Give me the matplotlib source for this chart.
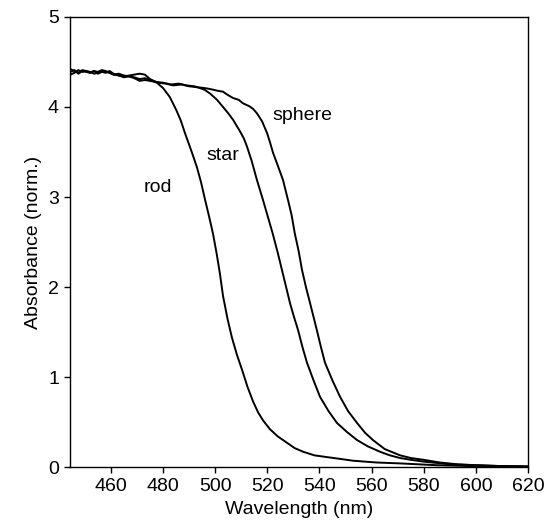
import matplotlib
matplotlib.use('Agg')
import matplotlib.pyplot as plt

plt.rcParams['font.family'] = ['Liberation Sans', 'DejaVu Sans']

# rod
rod_x = [444.5, 446, 447.5, 449, 450.5, 452, 453.5, 455, 456.5, 458, 459.5, 461, 463,
         465, 467, 469, 471, 473, 475, 477.6, 480, 482.6, 485, 486.8, 488.4, 491,
         493, 494.6, 496.1, 497.6, 499.1, 500.5, 501.8, 503, 504.7, 506.4, 508.3,
         510.3, 512.4, 514.5, 516.4, 518.3, 521, 524, 527.5, 530.5, 533.7, 538,
         542.9, 548, 552.9, 562, 571, 585, 599, 610, 620]
rod_y = [4.36, 4.38, 4.41, 4.39, 4.40, 4.38, 4.40, 4.39, 4.41, 4.40, 4.38, 4.36, 4.37,
         4.35, 4.34, 4.33, 4.31, 4.32, 4.30, 4.27, 4.21, 4.11, 3.97, 3.85, 3.71, 3.50,
         3.33, 3.16, 2.97, 2.79, 2.60, 2.38, 2.15, 1.90, 1.65, 1.44, 1.25,
         1.08, 0.89, 0.73, 0.61, 0.52, 0.42, 0.34, 0.27, 0.21, 0.17, 0.13,
         0.11, 0.09, 0.07, 0.05, 0.04, 0.02, 0.01, 0.007, 0.005]

# star
star_x = [444.5, 446, 447.5, 449, 450.5, 452, 453.5, 455, 456.5, 458, 459.5, 461, 463,
          465, 467, 469, 471, 473, 475, 477, 480, 483, 486, 489, 492, 494.2, 496,
          498, 500.7, 503, 505, 506.8, 509.5, 511, 512.2, 514, 516, 518.3, 520.2,
          522, 524, 525.6, 527.2, 528.7, 530.2, 531.8, 533.5, 535.2, 537.5, 540.2,
          543.5, 546.7, 550.5, 554.4, 558.5, 563.2, 567, 570.9, 575, 580, 590, 600,
          610, 620]
star_y = [4.39, 4.41, 4.37, 4.40, 4.39, 4.38, 4.40, 4.37, 4.39, 4.38, 4.40, 4.37, 4.35,
          4.33, 4.34, 4.32, 4.29, 4.30, 4.29, 4.28, 4.27, 4.25, 4.26, 4.24, 4.23, 4.21, 4.19,
          4.15, 4.08, 4.00, 3.93, 3.86, 3.73, 3.65, 3.56, 3.40, 3.19, 2.97, 2.78,
          2.60, 2.38, 2.19, 2.00, 1.82, 1.67, 1.52, 1.33, 1.16, 0.98, 0.78,
          0.62, 0.49, 0.39, 0.30, 0.23, 0.17, 0.13, 0.10, 0.08, 0.06, 0.03, 0.02,
          0.01, 0.005]

# sphere
sphere_x = [444.5, 446, 447.5, 449, 450.5, 452, 453.5, 455, 456.5, 458, 459.5, 461, 463,
            465, 467, 469, 471, 473, 475, 478, 481, 484, 487, 490, 493, 496, 498, 501,
            503, 504.5, 506.8, 509, 510.7, 513, 514.5, 516, 518, 519.9, 521, 522.2,
            524, 526, 527.9, 529.3, 530.5, 532, 533.3, 534.8, 536.4, 537.7, 539,
            540.5, 542.1, 545, 547.9, 551, 554.4, 557.5, 560.5, 565, 570.9, 575,
            580, 586.2, 593, 600, 610, 620]
sphere_y = [4.42, 4.40, 4.38, 4.41, 4.40, 4.39, 4.37, 4.38, 4.40, 4.39, 4.38, 4.36, 4.35,
            4.34, 4.35, 4.36, 4.37, 4.36, 4.31, 4.27, 4.26, 4.24, 4.25, 4.23, 4.22, 4.21, 4.20, 4.18,
            4.17, 4.14, 4.10, 4.08, 4.04, 4.01, 3.98, 3.93, 3.84, 3.71, 3.61, 3.49,
            3.35, 3.19, 2.97, 2.80, 2.60, 2.40, 2.19, 2.00, 1.82, 1.67, 1.52,
            1.34, 1.16, 0.96, 0.78, 0.62, 0.49, 0.38, 0.30, 0.20, 0.13, 0.10,
            0.08, 0.05, 0.03, 0.02, 0.01, 0.005]

fig = plt.figure(figsize=(5.44, 5.31), dpi=100)
ax = fig.add_axes([0.1287, 0.1205, 0.8419, 0.8475])

for xs, ys in [(rod_x, rod_y), (star_x, star_y), (sphere_x, sphere_y)]:
    ax.plot(xs, ys, color='black', lw=1.4)

ax.text(478, 3.11, 'rod', fontsize=14, ha='center', va='center')
ax.text(503, 3.46, 'star', fontsize=14, ha='center', va='center')
ax.text(533.3, 3.90, 'sphere', fontsize=14, ha='center', va='center')

ax.set_xlim(444.3, 620)
ax.set_ylim(0, 5)
ax.set_xticks(range(460, 621, 20))
ax.set_yticks(range(0, 6))
ax.tick_params(direction='out', length=4.5, width=1, labelsize=14, top=False, right=False)
for s in ax.spines.values():
    s.set_linewidth(1)
ax.set_xlabel('Wavelength (nm)', fontsize=14)
ax.set_ylabel('Absorbance (norm.)', fontsize=14)

plt.savefig('out.png', dpi=100)
